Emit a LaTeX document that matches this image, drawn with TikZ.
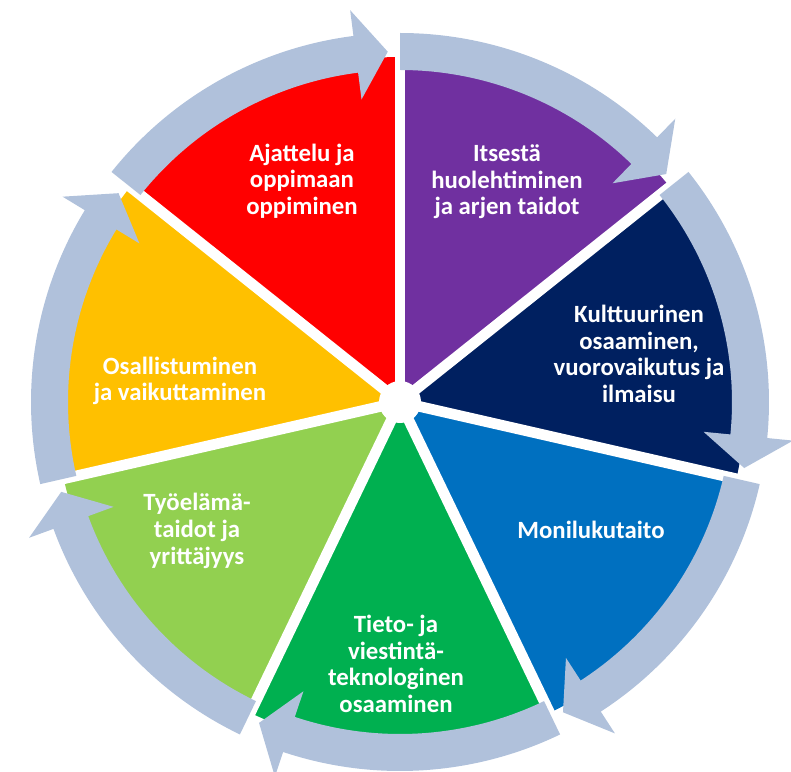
\documentclass[tikz,border=0pt]{standalone}
\usepackage{fontspec}
\setmainfont{Carlito}
\definecolor{cRed}{HTML}{FF0000}
\definecolor{cPurple}{HTML}{7030A0}
\definecolor{cNavy}{HTML}{002060}
\definecolor{cBlue}{HTML}{0070C0}
\definecolor{cGreen}{HTML}{00B050}
\definecolor{cLight}{HTML}{92D050}
\definecolor{cYellow}{HTML}{FFC000}
\definecolor{cArrow}{RGB}{176,193,219}
% sector: #1 colour, #2 start angle, #3 end angle
\newcommand{\cySector}[3]{%
  \fill[#1] (0,0) -- (#2:345) arc[start angle=#2, end angle=#3, radius=345] -- cycle;}
% curved arrow: #1 tail angle, #2 angle of the gap the head points to
\newcommand{\cyArrow}[2]{%
  \pgfmathsetmacro{\cyTip}{#2+2}%
  \pgfmathsetmacro{\cyHb}{#2+7.25}%
  \fill[cyc] (#1:369) arc[start angle=#1, end angle=\cyHb, radius=369]
    -- (\cyHb:395) -- (\cyTip:350.5) -- (\cyHb:305) -- (\cyHb:332)
    arc[start angle=\cyHb, end angle=#1, radius=332] -- cycle;}
\begin{document}
\begin{tikzpicture}[x=0.75pt,y=0.75pt,
  lbl/.style={text=white,font=\bfseries\fontsize{18.6}{20}\selectfont,align=center,inner sep=0pt},
  cyc/.style={fill=cArrow,draw=none},
  gapline/.style={white,line width=8pt}]
\useasboundingbox (-400,-369) rectangle (391,402);
% sectors
\cySector{cRed}{90}{141.4286}
\cySector{cPurple}{38.5714}{90}
\cySector{cNavy}{-12.8571}{38.5714}
\cySector{cBlue}{-64.2857}{-12.8571}
\cySector{cGreen}{-115.7143}{-64.2857}
\cySector{cLight}{-167.1429}{-115.7143}
\cySector{cYellow}{141.4286}{192.8571}
% white gaps
\foreach \g in {90,38.5714,-12.8571,-64.2857,-115.7143,-167.1429,141.4286}
  \draw[gapline] (0,0) -- (\g:360);
\fill[white] (0,0) circle (21);
% arrows
\cyArrow{141.4286}{90}
\cyArrow{90}{38.5714}
\cyArrow{38.5714}{-12.8571}
\cyArrow{-12.8571}{-64.2857}
\cyArrow{-64.2857}{-115.7143}
\cyArrow{-115.7143}{-167.1429}
\cyArrow{192.8571}{141.4286}
% labels
\node[lbl] (t1) at (-98,221) {Ajattelu ja\\oppimaan\\oppiminen};
\node[lbl] (t2) at (107,220) {Itsestä\\huolehtiminen\\ja arjen taidot};
\node[lbl] (t3) at (239,48) {Kulttuurinen\\osaaminen,\\vuorovaikutus ja\\ilmaisu};
\node[lbl] (t4) at (191,-128) {Monilukutaito};
\node[lbl] (t5) at (-4,-262) {Tieto- ja\\viestintä-\\teknologinen\\osaaminen};
\node[lbl] (t6) at (-203,-129) {Työelämä-\\taidot ja\\yrittäjyys};
\node[lbl] (t7) at (-220,21) {Osallistuminen\\ja vaikuttaminen};
\end{tikzpicture}
\end{document}
